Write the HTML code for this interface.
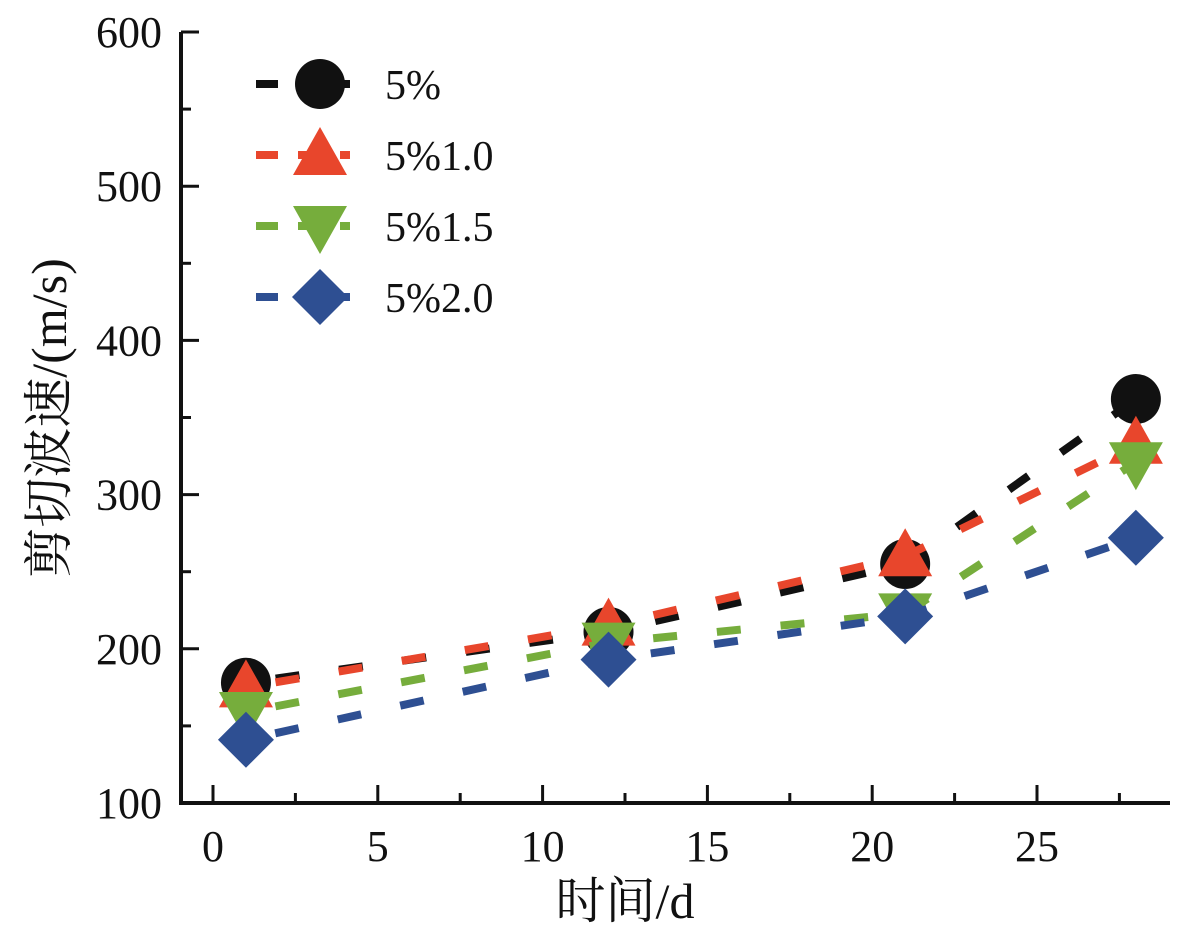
<!DOCTYPE html>
<html><head><meta charset="utf-8"><style>body{margin:0;background:#fff}svg{display:block}text{font-family:"Liberation Serif","Noto Serif CJK SC",serif;fill:#111}</style></head>
<body>
<svg id="chart" width="1182" height="938"></svg>
<script>
const categories=[1,12,21,28];
const s1=[178,211,255,362];
const s2=[175,215,260,333];
const s3=[159,204,223,321];
const s4=[141,193,221,272];
const seriesNames=["5%","5%1.0","5%1.5","5%2.0"];
const xTicks=[0,5,10,15,20,25];
const yTicks=[100,200,300,400,500,600];
const NS="http://www.w3.org/2000/svg";
const svg=document.getElementById('chart');
const X=v=>213+v*32.96, Y=v=>803-(v-100)*1.542;
function mk(t,a,p){const e=document.createElementNS(NS,t);for(const k in a)e.setAttribute(k,a[k]);(p||svg).appendChild(e);return e;}
const colors=["#111","#e8462c","#76ad3c","#2e4f92"];
const shapes=["circle","up","down","diamond"];
function marker(sh,x,y,c,g){
  if(sh==="circle")return mk('circle',{cx:x,cy:y,r:25,fill:c},g);
  if(sh==="up")return mk('polygon',{points:`${x},${y-28} ${x+27},${y+20} ${x-27},${y+20}`,fill:c},g);
  if(sh==="down")return mk('polygon',{points:`${x},${y+28} ${x+27},${y-20} ${x-27},${y-20}`,fill:c},g);
  return mk('polygon',{points:`${x},${y-28} ${x+28},${y} ${x},${y+28} ${x-28},${y}`,fill:c},g);
}
const ax=mk('g',{});
mk('line',{x1:181,y1:803,x2:1170,y2:803,stroke:'#111','stroke-width':4},ax);
mk('line',{x1:181,y1:32,x2:181,y2:805,stroke:'#111','stroke-width':4},ax);
for(let v=0;v<=27.5;v+=2.5){const maj=v%5===0;mk('line',{x1:X(v),y1:803,x2:X(v),y2:803-(maj?18:10),stroke:'#111','stroke-width':3},ax);}
xTicks.forEach(v=>{const t=mk('text',{x:X(v),y:861,'font-size':44,'text-anchor':'middle'});t.textContent=v;});
for(let v=100;v<=600;v+=50){const maj=v%100===0;mk('line',{x1:181,y1:Y(v),x2:181+(maj?18:10),y2:Y(v),stroke:'#111','stroke-width':3},ax);}
yTicks.forEach(v=>{const t=mk('text',{x:162,y:Y(v)+15,'font-size':44,'text-anchor':'end'});t.textContent=v;});
const xt=mk('text',{x:625,y:918,'font-size':50,'text-anchor':'middle'});xt.textContent='时间/d';


const yt=mk('text',{x:0,y:0,'font-size':50,'text-anchor':'middle',transform:'translate(66,418) rotate(-90)'});yt.textContent='剪切波速/(m/s)';


[s1,s2,s3,s4].forEach((s,i)=>{
  const g=mk('g',{});
  
  
  mk('polyline',{points:categories.map((c,j)=>X(c)+','+Y(s[j])).join(' '),fill:'none',stroke:colors[i],'stroke-width':8,'stroke-dasharray':'24 40','stroke-dashoffset':-30},g);
  categories.forEach((c,j)=>{const m=marker(shapes[i],X(c),Y(s[j]),colors[i],g);});
  const lg=mk('g',{});
  
  
  const ly=84+i*71;
  mk('line',{x1:256,y1:ly,x2:350,y2:ly,stroke:colors[i],'stroke-width':8,'stroke-dasharray':'22 20'},lg);
  marker(shapes[i],320,ly,colors[i],lg);
  const t=mk('text',{x:385,y:ly+15,'font-size':42},lg);t.textContent=seriesNames[i];
});
</script>
</body></html>
